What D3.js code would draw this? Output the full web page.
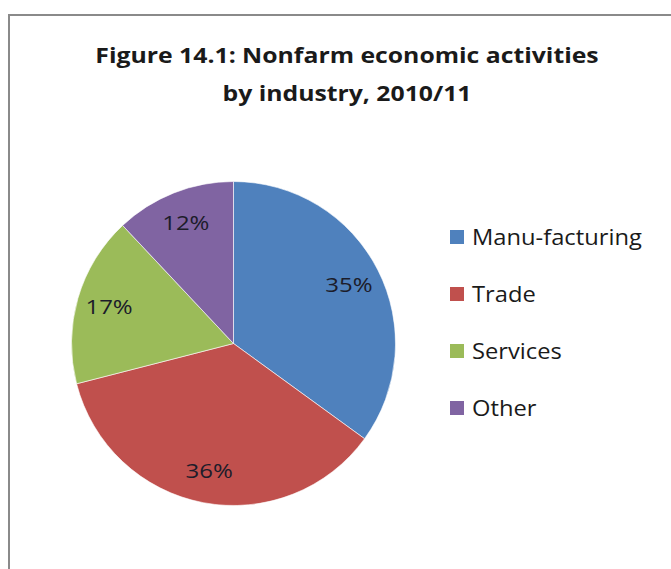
<!DOCTYPE html>
<html>
<head>
<meta charset="UTF-8">
<title>Nonfarm economic activities</title>
<style>
  body { margin: 0; background: #fff; }
  svg { display: block; font-family: "Open Sans", sans-serif; }
</style>
</head>
<body>
<svg width="671" height="569"></svg>
<script src="https://cdn.jsdelivr.net/npm/d3@7/dist/d3.min.js"></script>
<script>
const categories = ["Manu-facturing", "Trade", "Services", "Other"];
const shares = [35, 36, 17, 12];
const colors = ["#4F81BD", "#C0504D", "#9BBB59", "#8064A2"];
const titleLines = ["Figure 14.1: Nonfarm economic activities", "by industry, 2010/11"];

const svg = d3.select("svg");
const data = categories.map((c, i) => ({ name: c, value: shares[i], color: colors[i] }));

// chart frame
svg.append("path")
    .attr("d", "M9,569 V15 H671")
    .attr("fill", "none")
    .attr("stroke", "#8a8a8a")
    .attr("stroke-width", 2);

// the source text is drawn a bit wide, so stretch it horizontally
svg.append("g")
    .selectAll("text")
    .data(titleLines)
    .join("text")
    .attr("transform", (d, i) => `translate(347,${63 + i * 38}) scale(1.18,1)`)
    .attr("text-anchor", "middle")
    .style("font-size", "21px")
    .style("font-weight", "bold")
    .attr("fill", "#1a1a1a")
    .text(d => d);

const cx = 233.5, cy = 343.5, r = 162;
const pie = d3.pie().value(d => d.value).sort(null);
const arc = d3.arc().innerRadius(0).outerRadius(r);
const labelArc = d3.arc().innerRadius(r * 0.8).outerRadius(r * 0.8);

const g = svg.append("g").attr("transform", `translate(${cx},${cy})`);
const arcs = pie(data);

g.selectAll("path")
    .data(arcs)
    .join("path")
    .attr("d", arc)
    .attr("fill", d => d.data.color)
    .attr("stroke", "#fff")
    .attr("stroke-width", 0.6);

g.selectAll("text")
    .data(arcs)
    .join("text")
    .attr("transform", d => `translate(${labelArc.centroid(d)}) scale(1.2,1)`)
    .attr("text-anchor", "middle")
    .attr("dy", "0.35em")
    .style("font-size", "20px")
    .attr("fill", "#1c1c2a")
    .text(d => d.data.value + "%");

// legend
const legend = svg.append("g")
    .selectAll("g")
    .data(data)
    .join("g")
    .attr("transform", (d, i) => `translate(450,${237 + i * 57})`);

legend.append("rect")
    .attr("x", 0)
    .attr("y", -7)
    .attr("width", 14)
    .attr("height", 14)
    .attr("fill", d => d.color);

legend.append("text")
    .attr("transform", "translate(22,0) scale(1.13,1)")
    .attr("dy", "0.36em")
    .style("font-size", "21px")
    .attr("fill", "#1a1a1a")
    .text(d => d.name);
</script>
</body>
</html>
